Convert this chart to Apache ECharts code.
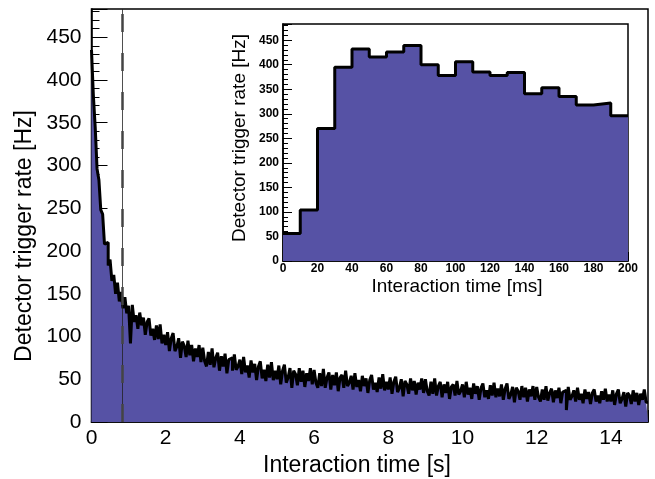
<!DOCTYPE html>
<html>
<head>
<meta charset="utf-8">
<script src="https://cdn.jsdelivr.net/npm/echarts@6/dist/echarts.min.js"></script>
<style>html,body{margin:0;padding:0;background:#fff;}#c{width:655px;height:479px;}</style>
</head>
<body>
<div id="c"></div>
<script>
// ---- Data ----
const mainBinWidth = 0.05; // s
const mainRate = [
  435, 382, 345, 296, 283, 248, 243, 208, 210, 183, 190, 165, 172, 150, 163, 141, 152, 133, 146, 127,
  136, 92, 137, 117, 125, 109, 128, 113, 122, 102, 117, 121, 101, 109, 96, 113, 97, 114, 92, 102,
  90, 105, 83, 98, 104, 83, 88, 98, 75, 94, 89, 76, 95, 78, 90, 71, 86, 76, 90, 70,
  87, 71, 65, 82, 67, 86, 64, 75, 81, 60, 77, 65, 80, 57, 73, 75, 60, 79, 61, 65,
  73, 56, 76, 58, 66, 52, 72, 58, 68, 49, 65, 71, 51, 61, 48, 67, 52, 70, 49, 60,
  50, 66, 44, 60, 67, 46, 52, 63, 40, 60, 56, 43, 63, 47, 60, 41, 57, 48, 63, 44,
  61, 46, 40, 57, 42, 62, 40, 52, 58, 38, 55, 43, 58, 36, 52, 55, 40, 60, 42, 46,
  54, 38, 57, 41, 49, 36, 54, 42, 51, 34, 49, 55, 38, 46, 35, 52, 39, 56, 37, 47,
  38, 52, 33, 47, 53, 35, 40, 50, 30, 48, 44, 33, 51, 37, 48, 32, 46, 38, 51, 34,
  50, 36, 31, 47, 33, 51, 31, 42, 47, 29, 44, 34, 47, 27, 41, 44, 31, 48, 32, 36,
  44, 29, 47, 32, 40, 27, 45, 33, 42, 26, 40, 45, 29, 37, 27, 43, 31, 46, 29, 39,
  30, 44, 26, 39, 45, 27, 32, 41, 23, 40, 36, 26, 42, 29, 40, 24, 38, 30, 42, 26,
  41, 29, 24, 38, 26, 42, 25, 34, 39, 23, 37, 28, 40, 22, 35, 37, 14, 41, 26, 30,
  37, 24, 40, 26, 33, 22, 38, 27, 35, 21, 34, 38, 24, 31, 22, 36, 26, 39, 24, 32,
  24, 37, 20, 33, 38, 22, 27, 35, 18, 34, 31, 21, 37, 24, 34, 20, 33, 26, 38, 23
];
const mainXMax = 15;
const markerTime = 0.84; // s

const insetBinWidth = 10; // ms
const insetRate = [56, 104, 270, 395, 432, 416, 426, 439, 400, 378, 406, 385, 378, 384, 341, 353, 335, 318, 322, 296];
const insetXMax = 200;

const mainXTitle = 'Interaction time [s]';
const insetXTitle = 'Interaction time [ms]';
const yTitle = 'Detector trigger rate [Hz]';

// ---- Build ----
function stepData(vals, w) {
  const d = vals.map((v, i) => [i * w, v]);
  d.push([vals.length * w, vals[vals.length - 1]]);
  return d;
}
const FONT = "'Liberation Sans', Arial, Helvetica, sans-serif";
const FILL = '#5652a5';

const chart = echarts.init(document.getElementById('c'), null, {renderer: 'canvas'});
chart.setOption({
  animation: false,
  backgroundColor: '#fff',
  grid: [
    {left: 91.5, right: 7, top: 9, bottom: 57, show: true, borderColor: '#000', borderWidth: 1.5, backgroundColor: 'transparent'},
    {left: 283, right: 27, top: 24, bottom: 218, show: true, borderColor: '#000', borderWidth: 1.5, backgroundColor: '#fff', z: 5}
  ],
  xAxis: [
    {
      type: 'value', gridIndex: 0, min: 0, max: mainXMax, interval: 2,
      axisLine: {show: true, lineStyle: {color: '#000', width: 1.5}},
      axisTick: {show: true, inside: true, length: 12, lineStyle: {color: '#000', width: 1}},
      minorTick: {show: true, splitNumber: 4, length: 6, lineStyle: {color: '#000', width: 1}},
      splitLine: {show: false},
      axisLabel: {fontSize: 21, color: '#000', margin: 6, fontFamily: FONT, showMaxLabel: false}
    },
    {
      type: 'value', gridIndex: 1, min: 0, max: insetXMax, interval: 20, z: 6,
      axisLine: {show: true, lineStyle: {color: '#000', width: 1.5}},
      axisTick: {show: true, inside: true, length: 9, lineStyle: {color: '#000', width: 1}},
      minorTick: {show: true, splitNumber: 4, length: 5, lineStyle: {color: '#000', width: 1}},
      splitLine: {show: false},
      axisLabel: {fontSize: 12, fontWeight: 'bold', color: '#000', margin: 2, fontFamily: FONT}
    }
  ],
  yAxis: [
    {
      type: 'value', gridIndex: 0, min: 0, max: 483, interval: 50,
      axisLine: {show: true, lineStyle: {color: '#000', width: 1.5}},
      axisTick: {show: true, inside: true, length: 16, lineStyle: {color: '#000', width: 1}},
      minorTick: {show: true, splitNumber: 5, length: 8, lineStyle: {color: '#000', width: 1}},
      splitLine: {show: false},
      axisLabel: {fontSize: 21, color: '#000', margin: 10, fontFamily: FONT, showMaxLabel: false}
    },
    {
      type: 'value', gridIndex: 1, min: 0, max: 483, interval: 50, z: 6,
      axisLine: {show: true, lineStyle: {color: '#000', width: 1.5}},
      axisTick: {show: true, inside: true, length: 9, lineStyle: {color: '#000', width: 1}},
      minorTick: {show: true, splitNumber: 5, length: 5, lineStyle: {color: '#000', width: 1}},
      splitLine: {show: false},
      axisLabel: {fontSize: 12, fontWeight: 'bold', color: '#000', margin: 4, fontFamily: FONT, showMaxLabel: false}
    }
  ],
  series: [
    {
      type: 'line', xAxisIndex: 0, yAxisIndex: 0, step: 'end',
      data: stepData(mainRate, mainBinWidth),
      symbol: 'none', silent: true,
      lineStyle: {color: '#000', width: 3},
      areaStyle: {color: FILL, opacity: 1},
      markLine: {
        silent: true, symbol: 'none', label: {show: false},
        data: [
          {xAxis: markerTime, lineStyle: {type: 'solid', width: 0.8, color: '#222'}},
          {xAxis: markerTime, lineStyle: {type: [18, 21], width: 2.5, color: '#444'}}
        ]
      }
    },
    {
      type: 'line', xAxisIndex: 1, yAxisIndex: 1, step: 'end', z: 7,
      data: stepData(insetRate, insetBinWidth),
      symbol: 'none', silent: true,
      lineStyle: {color: '#000', width: 3},
      areaStyle: {color: FILL, opacity: 1}
    }
  ],
  graphic: [
    {type: 'text', x: 25, y: 236, rotation: Math.PI / 2, z: 10,
     style: {text: yTitle, font: '23px ' + FONT, fill: '#000', align: 'center', verticalAlign: 'middle'}},
    {type: 'text', x: 357, y: 466, z: 10,
     style: {text: mainXTitle, font: '23px ' + FONT, fill: '#000', align: 'center', verticalAlign: 'middle'}},
    {type: 'text', x: 240, y: 138, rotation: Math.PI / 2, z: 10,
     style: {text: yTitle, font: '19px ' + FONT, fill: '#000', align: 'center', verticalAlign: 'middle'}},
    {type: 'text', x: 457, y: 287, z: 10,
     style: {text: insetXTitle, font: '19px ' + FONT, fill: '#000', align: 'center', verticalAlign: 'middle'}}
  ]
});
</script>
</body>
</html>
